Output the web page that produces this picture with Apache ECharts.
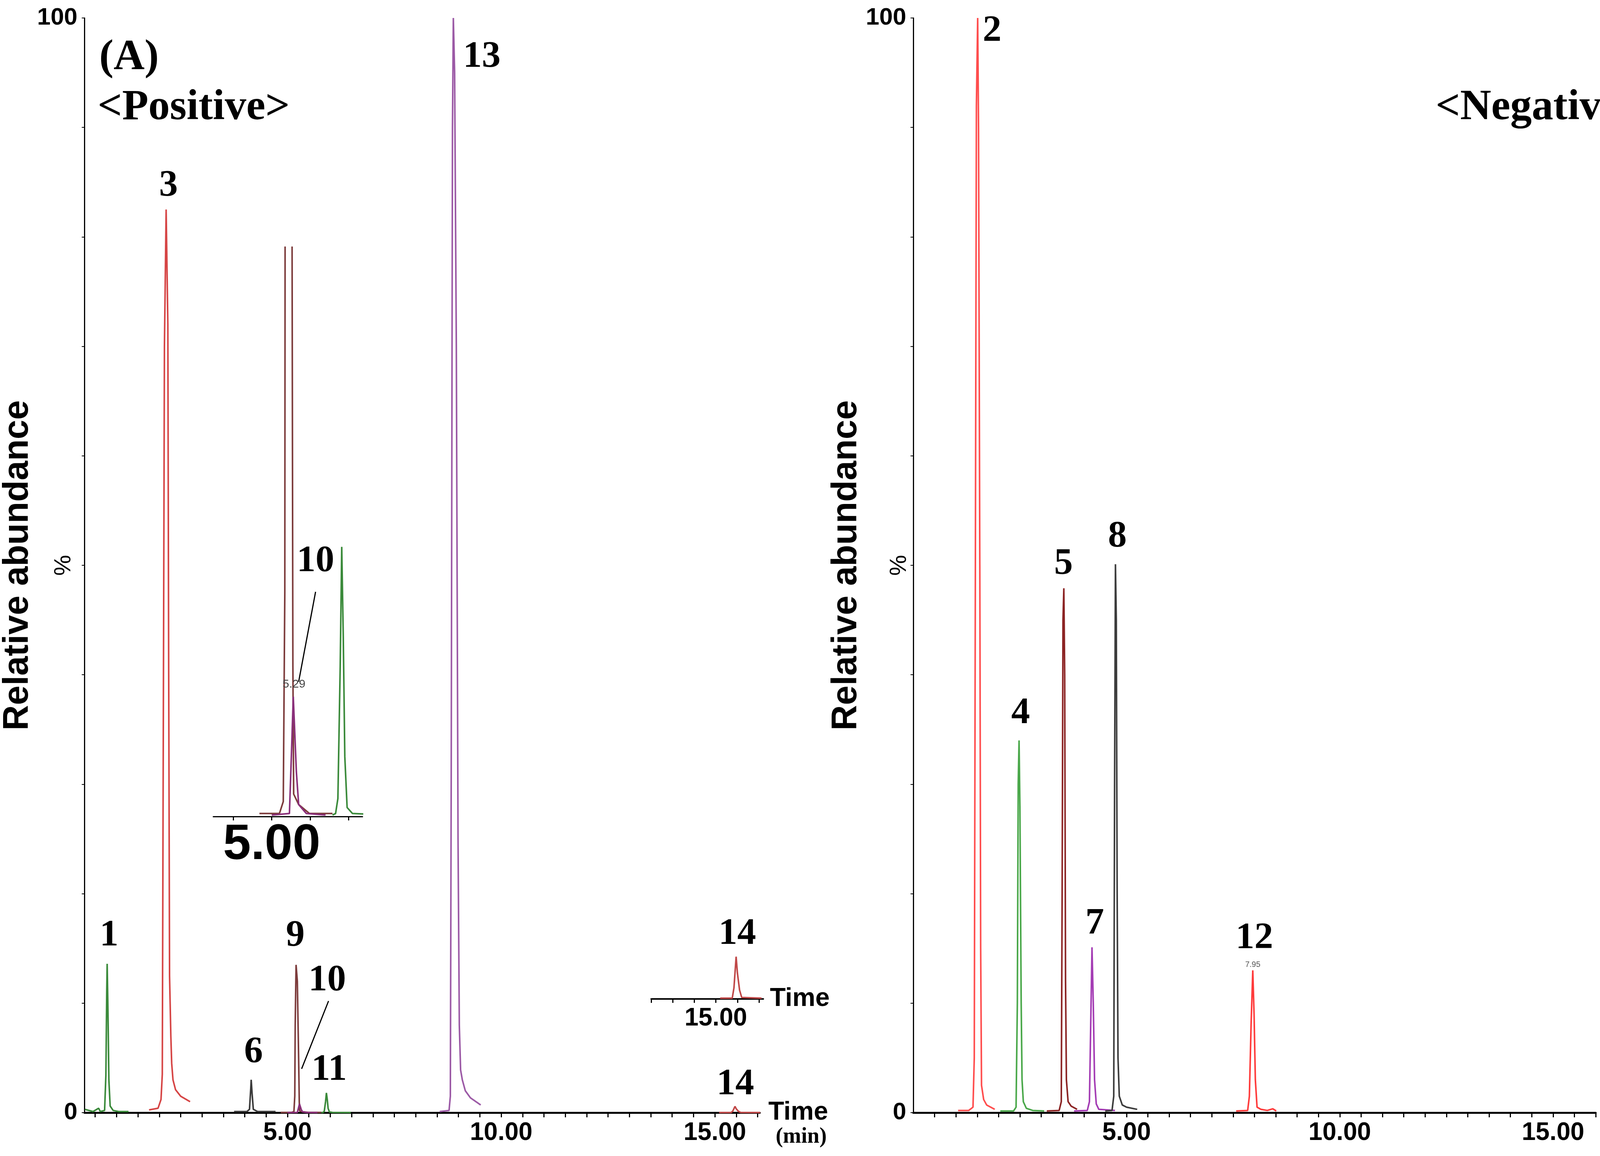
<!DOCTYPE html>
<html>
<head>
<meta charset="utf-8">
<script src="https://cdn.jsdelivr.net/npm/echarts@6/dist/echarts.min.js"></script>
<style>
html, body { margin: 0; padding: 0; background: #fff; }
#chart { width: 4281px; height: 2959px; }
</style>
</head>
<body>
<div id="chart"></div>
<script>
// retention time (min), relative abundance (%)
// (A) positive mode
const peak1 = [[0.26,0.3],[0.45,0.1],[0.58,0.4],[0.62,0.1],[0.72,0.2],[0.75,3.4],[0.77,11],[0.78,13.6],[0.8,9],[0.82,3],[0.85,0.6],[0.92,0.2],[1.05,0.1],[1.28,0.1]];
const peak3 = [[1.76,0.25],[1.97,0.4],[2.04,1.2],[2.07,3.5],[2.09,30],[2.12,70],[2.16,82.5],[2.2,72],[2.22,40],[2.24,12.5],[2.27,7],[2.29,4.5],[2.32,3.0],[2.38,2.1],[2.5,1.5],[2.72,1.0]];
const peak6 = [[3.75,0.1],[4.05,0.1],[4.11,0.3],[4.14,2.2],[4.15,3.0],[4.17,1.8],[4.2,0.3],[4.3,0.1],[4.72,0.1]];
const peak9 = [[4.84,0.02],[5.1,0.02],[5.15,0.1],[5.17,1.5],[5.18,8],[5.2,13.5],[5.23,12],[5.26,5],[5.275,1.0],[5.285,0.15],[5.35,0.08],[5.49,0.02],[5.79,0.02]];
const peak10 = [[5.0,0.01],[5.23,0.02],[5.255,0.4],[5.28,0.8],[5.3,0.55],[5.32,0.3],[5.35,0.08],[5.45,0.02],[5.7,0.01]];
const peak11 = [[5.79,0.01],[5.83,0.02],[5.86,0.12],[5.89,1.0],[5.91,1.8],[5.93,1.2],[5.95,0.4],[5.98,0.06],[6.05,0.02],[6.48,0.01]];
const peak13 = [[8.56,0.1],[8.78,0.2],[8.81,1.5],[8.83,30],[8.86,90],[8.88,100],[8.91,95],[8.95,70],[8.99,25],[9.02,8],[9.05,3.9],[9.09,3.0],[9.16,2.0],[9.28,1.35],[9.52,0.7]];
const peak14 = [[15.1,0.01],[15.38,0.01],[15.42,0.15],[15.47,0.57],[15.5,0.35],[15.55,0.12],[15.6,0.02],[16.06,0.01]];
// negative mode
const peak2 = [[1.05,0.2],[1.3,0.2],[1.4,0.5],[1.43,5],[1.45,40],[1.48,92],[1.51,100],[1.53,90],[1.56,50],[1.58,15],[1.6,2.5],[1.65,1.2],[1.72,0.7],[1.91,0.3]];
const peak4 = [[2.04,0.15],[2.35,0.15],[2.41,0.5],[2.44,10],[2.46,30],[2.48,34],[2.5,28],[2.53,10],[2.55,3],[2.58,1.0],[2.65,0.4],[2.8,0.2],[3.07,0.15]];
const peak5 = [[3.13,0.15],[3.42,0.2],[3.47,1.0],[3.49,20],[3.51,45],[3.53,47.9],[3.55,40],[3.57,12],[3.59,3],[3.63,1.0],[3.7,0.6],[3.84,0.3]];
const peak7 = [[3.77,0.15],[4.08,0.2],[4.13,1.0],[4.16,8],[4.19,15.1],[4.22,10],[4.25,3],[4.29,0.8],[4.35,0.3],[4.73,0.2]];
const peak8 = [[4.5,0.15],[4.66,0.2],[4.7,1.5],[4.72,30],[4.74,50.1],[4.76,45],[4.78,20],[4.8,5],[4.83,1.5],[4.9,0.7],[5.0,0.5],[5.25,0.3]];
const peak12 = [[7.57,0.15],[7.84,0.2],[7.88,1.5],[7.92,8],[7.96,13],[7.99,9],[8.02,3],[8.06,0.5],[8.15,0.3],[8.3,0.2],[8.43,0.35],[8.51,0.15]];

const timeLabels = [5, 10, 15];
const abundanceLabels = [0, 100];
const rtPeak10 = '5.29';
const rtPeak12 = '7.95';

const SERIF = '"Liberation Serif", "Times New Roman", serif';
const SANS = '"Liberation Sans", Arial, sans-serif';

function halfMinuteTicks(a, b) {
    const out = [];
    for (let v = a; v <= b + 1e-9; v += 0.5) out.push(+v.toFixed(2));
    return out;
}

function apex(arr) {
    return arr.reduce((m, p) => (p[1] > m[1] ? p : m), arr[0]);
}

function timeAxis(gi, min, max, opts) {
    return {
        gridIndex: gi, type: 'value', min: min, max: max,
        name: opts.name || '', nameLocation: 'end', nameGap: opts.nameGap || 20,
        nameTextStyle: { fontFamily: SANS, fontWeight: 'bold', fontSize: 66, color: '#000', verticalAlign: 'middle', align: 'left' },
        axisLine: { onZero: false, lineStyle: { color: '#000', width: opts.lineWidth || 5 } },
        axisTick: { customValues: opts.ticks, length: opts.tickLen || 12, lineStyle: { color: '#000', width: 3 } },
        axisLabel: {
            customValues: opts.labels, formatter: v => v.toFixed(2),
            fontFamily: SANS, fontWeight: 'bold', fontSize: opts.labelSize || 64, color: '#000', margin: opts.labelMargin || 20
        },
        splitLine: { show: false }
    };
}

function abundanceAxis(gi) {
    return {
        gridIndex: gi, type: 'value', min: 0, max: 100, interval: 10,
        name: 'Relative abundance', nameLocation: 'middle', nameGap: 88, nameRotate: 90,
        nameTextStyle: { fontFamily: SANS, fontWeight: 'bold', fontSize: 90, color: '#000' },
        axisLine: { show: true, lineStyle: { color: '#000', width: 3 } },
        axisTick: { show: true, length: 7, lineStyle: { color: '#000', width: 2 } },
        axisLabel: { customValues: abundanceLabels, fontFamily: SANS, fontWeight: 'bold', fontSize: 62, color: '#000', margin: 18 },
        splitLine: { show: false }
    };
}

function hiddenAxis(gi, max) {
    return { gridIndex: gi, type: 'value', min: 0, max: max, show: false };
}

function peakLabel(arr, text, dx, dy, size, color) {
    return {
        coord: apex(arr), value: text,
        label: { formatter: text, offset: [dx, dy], fontSize: size || 96, color: color || '#000' }
    };
}

function trace(data, color, xi, yi, labels, extra) {
    const s = {
        type: 'line', data: data, xAxisIndex: xi, yAxisIndex: yi,
        showSymbol: false, symbol: 'none', silent: true,
        lineStyle: { color: color, width: 4 }, z: 3
    };
    if (labels && labels.length) {
        s.markPoint = {
            symbol: 'circle', symbolSize: 1, silent: true,
            itemStyle: { color: 'rgba(0,0,0,0)' },
            label: { show: true, position: 'inside', fontFamily: SERIF, fontWeight: 'bold', color: '#000' },
            data: labels
        };
    }
    return Object.assign(s, extra || {});
}

function leader(from, to) {
    return {
        symbol: ['none', 'none'], silent: true,
        lineStyle: { color: '#000', width: 3, type: 'solid' },
        label: { show: false },
        data: [[{ coord: from }, { coord: to }]]
    };
}

const C = {
    p1: '#3a8a3a', p3: '#d64545', p6: '#3a3a3a', p9: '#7d3c3c', p10: '#8a2f7a', p11: '#3a8a3a',
    p13: '#9c5aa6', p14: '#c04848',
    p2: '#ff4d4d', p4: '#4aa84a', p5: '#8c2424', p7: '#a43cb4', p8: '#3c3c3c', p12: '#ff3b3b'
};

const chart = echarts.init(document.getElementById('chart'), null, { renderer: 'canvas', width: 4281, height: 2959 });

const option = {
    animation: false,
    backgroundColor: '#fff',
    grid: [
        { left: 199, top: 46, width: 1746, height: 2802 },
        { left: 546, top: 633, width: 382, height: 1457 },
        { left: 1667, top: 2257, width: 287, height: 300 },
        { left: 2338, top: 46, width: 1747, height: 2802 }
    ],
    xAxis: [
        timeAxis(0, 0.25, 16.05, { name: 'Time', nameGap: 22, ticks: halfMinuteTicks(0.5, 16), labels: timeLabels }),
        timeAxis(1, 4.24, 6.18, { ticks: halfMinuteTicks(4.5, 6), labels: [5], lineWidth: 3, tickLen: 10, labelSize: 128, labelMargin: 10 }),
        timeAxis(2, 13.5, 16.1, { name: 'Time', nameGap: 17, ticks: halfMinuteTicks(13.5, 16), labels: [15], lineWidth: 4, tickLen: 10, labelMargin: 18 }),
        timeAxis(3, 0, 16, { name: 'Time', nameGap: 21, ticks: halfMinuteTicks(0.5, 16), labels: timeLabels })
    ],
    yAxis: [
        abundanceAxis(0),
        hiddenAxis(1, 3.8),
        hiddenAxis(2, 1.58),
        abundanceAxis(3)
    ],
    series: [
        // positive mode, main panel
        trace(peak1, C.p1, 0, 0, [peakLabel(peak1, '1', 5, -72)]),
        trace(peak3, C.p3, 0, 0, [peakLabel(peak3, '3', 6, -60)]),
        trace(peak6, C.p6, 0, 0, [peakLabel(peak6, '6', 6, -70)]),
        trace(peak9, C.p9, 0, 0, [peakLabel(peak9, '9', -2, -74)]),
        trace(peak10, C.p10, 0, 0, [], { markLine: leader([5.96, 10.2], [5.33, 4.0]), markPoint: {
            symbol: 'circle', symbolSize: 1, silent: true, itemStyle: { color: 'rgba(0,0,0,0)' },
            label: { show: true, position: 'inside', fontFamily: SERIF, fontWeight: 'bold', color: '#000' },
            data: [peakLabel(peak10, '10', 71, -315)]
        } }),
        trace(peak11, C.p11, 0, 0, [peakLabel(peak11, '11', 7, -58)]),
        trace(peak13, C.p13, 0, 0, [peakLabel(peak13, '13', 73, 100)]),
        trace(peak14, C.p14, 0, 0, [peakLabel(peak14, '14', 1, -56)]),
        // inset around 5 min
        trace(peak9, C.p9, 1, 1),
        trace(peak10, C.p10, 1, 1, [], { markLine: leader([5.57, 1.5], [5.35, 0.9]), markPoint: {
            symbol: 'circle', symbolSize: 1, silent: true, itemStyle: { color: 'rgba(0,0,0,0)' },
            label: { show: true, position: 'inside', fontFamily: SERIF, fontWeight: 'bold', color: '#000' },
            data: [
                peakLabel(peak10, '10', 57, -346),
                { coord: apex(peak10), value: rtPeak10, label: { formatter: rtPeak10, offset: [2, -32], fontSize: 30, fontFamily: SANS, fontWeight: 'normal', color: '#444' } }
            ]
        } }),
        trace(peak11, C.p11, 1, 1),
        // inset around 15 min
        trace(peak14, C.p14, 2, 2, [peakLabel(peak14, '14', 3, -58)]),
        // negative mode
        trace(peak2, C.p2, 3, 3, [peakLabel(peak2, '2', 37, 34)]),
        trace(peak4, C.p4, 3, 3, [peakLabel(peak4, '4', 4, -69)]),
        trace(peak5, C.p5, 3, 3, [peakLabel(peak5, '5', -1, -62)]),
        trace(peak7, C.p7, 3, 3, [peakLabel(peak7, '7', 7, -60)]),
        trace(peak8, C.p8, 3, 3, [peakLabel(peak8, '8', 5, -70)]),
        trace(peak12, C.p12, 3, 3, [
            peakLabel(peak12, '12', 4, -82),
            { coord: apex(peak12), value: rtPeak12, label: { formatter: rtPeak12, offset: [0, -14], fontSize: 20, fontFamily: SANS, fontWeight: 'normal', color: '#555' } }
        ])
    ],
    graphic: [
        { type: 'text', x: 254, y: 149, style: { text: '(A)', font: 'bold 110px ' + SERIF, fill: '#000', textAlign: 'left', textVerticalAlign: 'middle' } },
        { type: 'text', x: 250, y: 277, style: { text: '<Positive>', font: 'bold 110px ' + SERIF, fill: '#000', textAlign: 'left', textVerticalAlign: 'middle' } },
        { type: 'text', x: 4210, y: 277, style: { text: '<Negative>', font: 'bold 110px ' + SERIF, fill: '#000', textAlign: 'right', textVerticalAlign: 'middle' } },
        { type: 'text', x: 163, y: 1447, rotation: Math.PI / 2, style: { text: '%', font: '60px ' + SANS, fill: '#000', textAlign: 'center', textVerticalAlign: 'middle' } },
        { type: 'text', x: 2302, y: 1447, rotation: Math.PI / 2, style: { text: '%', font: '60px ' + SANS, fill: '#000', textAlign: 'center', textVerticalAlign: 'middle' } },
        { type: 'text', x: 2051, y: 2911, style: { text: '(min)', font: 'bold 56px ' + SERIF, fill: '#000', textAlign: 'center', textVerticalAlign: 'middle' } },
        { type: 'text', x: 4190, y: 2908, style: { text: '(min)', font: 'bold 56px ' + SERIF, fill: '#000', textAlign: 'center', textVerticalAlign: 'middle' } }
    ]
};

chart.setOption(option);
</script>
</body>
</html>
